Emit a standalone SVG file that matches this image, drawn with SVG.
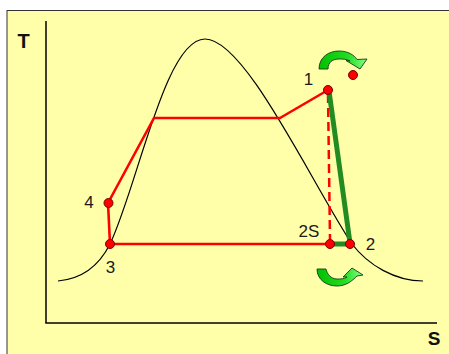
<svg xmlns="http://www.w3.org/2000/svg" width="449" height="354" viewBox="0 0 449 354">
<defs>
<linearGradient id="gArr" x1="0" y1="0" x2="1" y2="0">
<stop offset="0" stop-color="#00C000"/>
<stop offset="0.6" stop-color="#22DD22"/>
<stop offset="1" stop-color="#88FF88"/>
</linearGradient>
<style>
.lbl{font-family:"Liberation Sans",Arial,sans-serif;font-size:17px;fill:#1a1a1a}
.ax{font-family:"Liberation Sans",Arial,sans-serif;font-weight:bold;fill:#111}
.red{fill:none;stroke:#FF0000;stroke-width:2.6;stroke-linejoin:round}
.dot{fill:#FF0000;stroke:#7a0000;stroke-width:1}
.grn{fill:none;stroke:#228B22;stroke-width:5;stroke-linecap:round}
.arr{fill:url(#gArr);stroke:#1a3a1a;stroke-width:0.9;stroke-linejoin:round}
</style>
</defs>
<rect x="0" y="0" width="449" height="354" fill="#FFFFFF"/>
<rect x="7" y="10.5" width="444" height="346" fill="#FFFFAA" stroke="#333333" stroke-width="1"/>
<g id="axes">
<line x1="46" y1="21" x2="46" y2="323" stroke="#000" stroke-width="1.5"/>
<line x1="45.3" y1="323" x2="437" y2="323" stroke="#000" stroke-width="1.5"/>
<text class="ax" x="23.5" y="48" font-size="20" text-anchor="middle">T</text>
<text class="ax" x="434" y="345" font-size="19" text-anchor="middle">S</text>
</g>
<g id="dome">
<path d="M58,281 C80,279 98,268 110,244 C138,185 165,39 205,39 C245,39 310,180 352,244 C368,265 395,281 423,281" fill="none" stroke="#000" stroke-width="1.2"/>
</g>
<g id="connectors">
<polyline class="red" points="110,244 108,203 154,118 280,118 328,90"/>
<line class="red" x1="110" y1="244" x2="330" y2="244"/>
<line x1="328" y1="94" x2="330" y2="240" stroke="#FF0000" stroke-width="2.5" stroke-dasharray="9,5"/>
<line class="grn" x1="329" y1="91" x2="350" y2="243"/>
<line class="grn" x1="331" y1="244" x2="349" y2="244"/>
</g>
<g id="node-1">
<circle class="dot" cx="328" cy="90" r="4.5"/>
<text class="lbl" x="308.5" y="85" text-anchor="middle">1</text>
</g>
<g id="node-2">
<circle class="dot" cx="350" cy="244" r="4.5"/>
<text class="lbl" x="370.5" y="250" text-anchor="middle">2</text>
</g>
<g id="node-2S">
<circle class="dot" cx="330" cy="244" r="4.5"/>
<text class="lbl" x="309" y="237" text-anchor="middle">2S</text>
</g>
<g id="node-3">
<circle class="dot" cx="110" cy="244" r="4.5"/>
<text class="lbl" x="110.5" y="273" text-anchor="middle">3</text>
</g>
<g id="node-4">
<circle class="dot" cx="108.5" cy="203" r="4.5"/>
<text class="lbl" x="89" y="208" text-anchor="middle">4</text>
</g>
<g id="heat-in">
<path class="arr" d="M319,69 C319,57 329,51 339,51 C348,51 354,55 357,59.5 L367,59 L360,69 L346,60.5 L350,61 C346,59 343,59 339,59 C333,59 328,62 328,69 Z"/>
<circle class="dot" cx="353" cy="75" r="4.5"/>
</g>
<g id="heat-out">
<path class="arr" d="M317,269 C317,280 327,286 337,286 C346,286 352,281 357,276 L363,275 L352,268 L343,277 L347,277 C344,279 341,279 337,279 C331,279 327,274 326,269 Z"/>
</g>
</svg>
